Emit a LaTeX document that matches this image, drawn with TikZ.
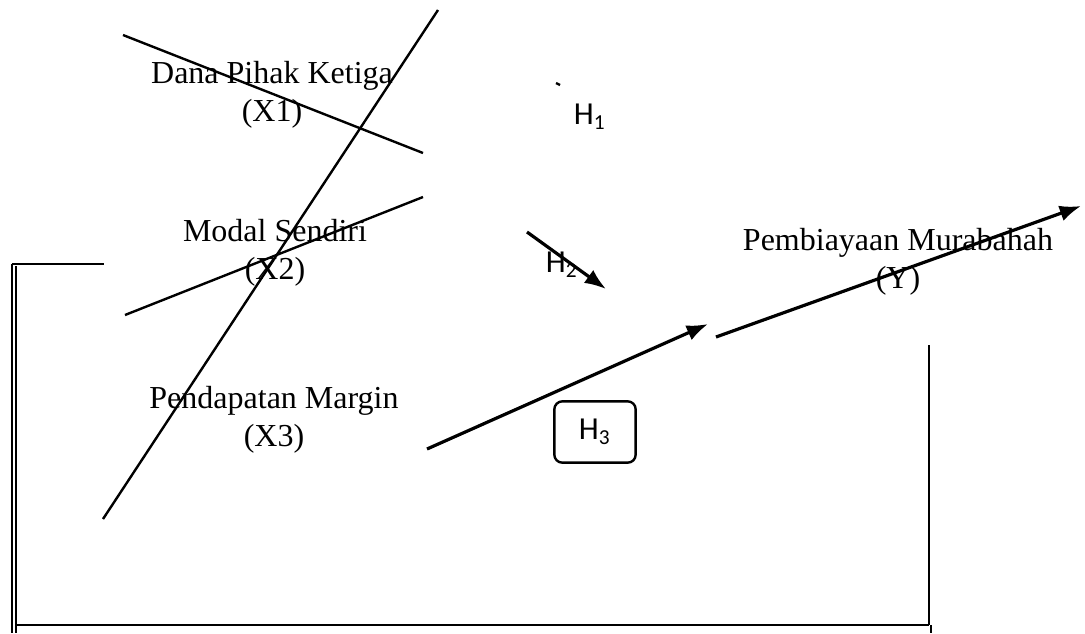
\documentclass[tikz,border=0pt]{standalone}
\usepackage{fontspec}
\setmainfont{Liberation Serif}
\newfontfamily\hfont{Carlito}
\usetikzlibrary{arrows.meta}
\tikzstyle{var}=[align=center, inner sep=0pt, font=\fontsize{12}{14.25}\selectfont]
\tikzstyle{hyp}=[inner sep=0pt, font=\hfont\fontsize{12}{14}\selectfont]
\tikzstyle{arr}=[-{Latex[length=8pt, width=6pt]}, line width=1.2pt]
\tikzstyle{ln}=[line width=0.9pt]

\begin{document}
\begin{tikzpicture}[x=0.375pt, y=-0.375pt]
        \useasboundingbox (0,0) rectangle (1085,633);

        \node[var] (1) at (272,95) {Dana Pihak Ketiga\\(X1)};
        \node[var] (2) at (275,253) {Modal Sendiri\\(X2)};
        \node[var] (3) at (274,420) {Pendapatan Margin\\(X3)};
        \node[var] (4) at (898,262) {Pembiayaan Murabahah\\(Y)};

        \node[hyp] (h1) at (590,117) {H\textsubscript{1}};
        \node[hyp] (h2) at (562,265) {H\textsubscript{2}};
        \node[hyp, draw, rounded corners=3pt, minimum width=30.5pt,
            minimum height=23pt, line width=0.9pt] (h3) at (595,432)
            {H\textsubscript{3}};

        % loose ends of the lines
        \coordinate (a0) at (123,35);  \coordinate (a1) at (423,153);
        \coordinate (b0) at (438,10);  \coordinate (b1) at (103,519);
        \coordinate (c0) at (125,315); \coordinate (c1) at (423,197);
        \coordinate (d0) at (527,232); \coordinate (d1) at (606,289);
        \coordinate (e0) at (427,449); \coordinate (e1) at (708,324);
        \coordinate (f0) at (716,337); \coordinate (f1) at (1081,206);
        \coordinate (g0) at (556,83);  \coordinate (g1) at (560,85);

        \draw[ln] (a0) to (a1);
        \draw[ln] (b0) to (b1);
        \draw[ln] (c0) to (c1);
        \draw[ln] (g0) to (g1);
        \draw[arr] (d0) to (d1);
        \draw[arr] (e0) to (e1);
        \draw[arr] (f0) to (f1);

        % frame
        \coordinate (k0) at (12,264);  \coordinate (k1) at (104,264);
        \coordinate (k2) at (12,633);  \coordinate (k3) at (16,266);
        \coordinate (k4) at (16,633);  \coordinate (k5) at (16,625);
        \coordinate (k6) at (929,625); \coordinate (k7) at (929,345);
        \coordinate (k8) at (931,625); \coordinate (k9) at (931,633);

        \draw[line width=0.6pt] (k0) to (k2);
        \draw[line width=0.6pt] (k3) to (k4);
        \draw[line width=1pt] (k0) to (k1);
        \draw[line width=1.1pt] (k5) to (k6);
        \draw[line width=1pt] (k7) to (k6);
        \draw[ln] (k8) to (k9);

    \end{tikzpicture}
\end{document}
